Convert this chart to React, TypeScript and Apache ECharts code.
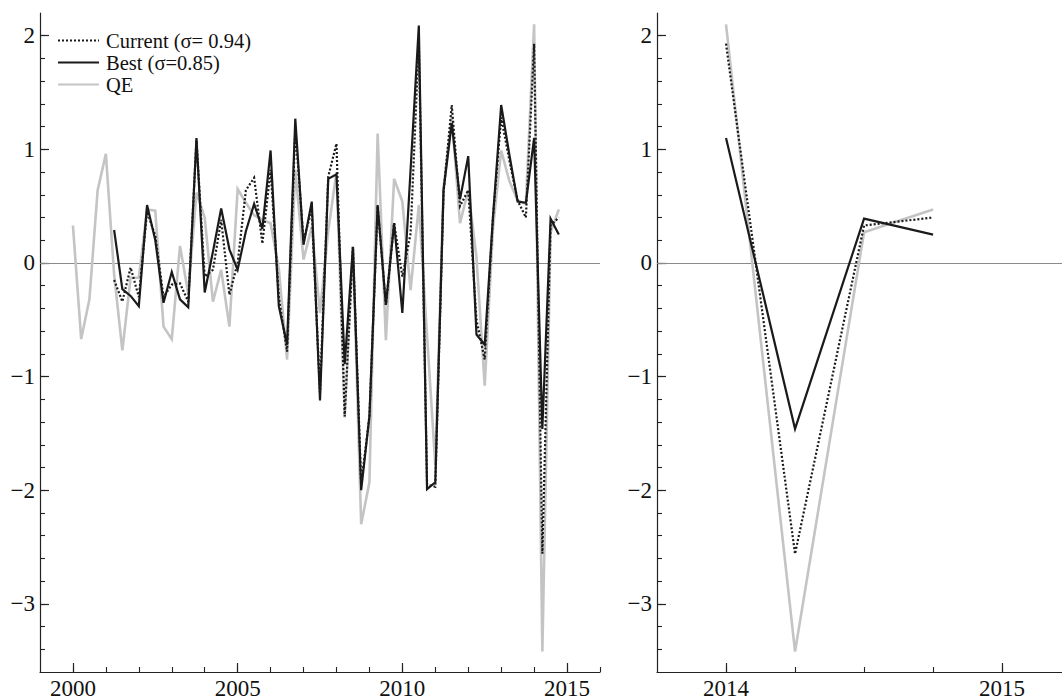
import React, { useEffect, useRef } from "react";
import * as echarts from "echarts";

// Quarterly series, QE from 2000Q1, models from 2001Q2
const qeStart = 2000.0;
const modelStart = 2001.25;

const qeValues = [
  0.33, -0.67, -0.32, 0.64, 0.96, -0.1, -0.77, -0.13, -0.13, 0.47,
  0.46, -0.56, -0.67, 0.15, -0.27, 0.62, 0.4, -0.34, -0.06, -0.56,
  0.65, 0.53, 0.42, 0.38, 0.35, -0.05, -0.85, 0.82, 0.03, 0.32,
  -0.44, 0.28, 0.8, -1.36, 0.15, -2.3, -1.93, 1.14, -0.68, 0.74,
  0.54, -0.24, 0.51, -0.64, -1.78, 0.66, 1.29, 0.35, 0.64, 0.05,
  -1.08, 0.3, 0.99, 0.72, 0.55, 0.52, 2.1, -3.42, 0.27, 0.47,
];

const bestValues = [
  0.29, -0.23, -0.29, -0.38, 0.51, 0.2, -0.35, -0.08, -0.32, -0.39,
  1.1, -0.26, 0.1, 0.48, 0.12, -0.06, 0.28, 0.52, 0.3, 0.99,
  -0.38, -0.72, 1.27, 0.16, 0.54, -1.21, 0.74, 0.78, -0.89, 0.14,
  -2.0, -1.35, 0.51, -0.37, 0.35, -0.44, 0.82, 2.09, -1.99, -1.93,
  0.64, 1.23, 0.56, 0.94, -0.63, -0.72, 0.4, 1.39, 0.95, 0.54,
  0.53, 1.1, -1.46, 0.39, 0.25,
];

const currentValues = [
  -0.15, -0.34, -0.04, -0.3, 0.45, 0.24, -0.3, -0.19, -0.18, -0.34,
  1.08, -0.12, -0.06, 0.38, -0.28, 0.0, 0.64, 0.75, 0.17, 0.82,
  -0.3, -0.78, 1.18, 0.2, 0.47, -1.14, 0.76, 1.05, -1.35, 0.14,
  -1.95, -1.35, 0.5, -0.37, 0.35, -0.12, 0.26, 1.95, -1.95, -1.97,
  0.62, 1.39, 0.5, 0.64, -0.5, -0.85, 0.4, 1.28, 0.9, 0.55,
  0.4, 1.93, -2.56, 0.33, 0.4,
];

// zoomed panel: last four quarters (2014)
const zoomStart = 2014.0;
const zoomCount = 4;

const seriesNames = ["Current (\u03c3= 0.94)", "Best (\u03c3=0.85)", "QE"];

const yTickLabels = [-3, -2, -1, 0, 1, 2];
const leftYearLabels = [2000, 2005, 2010, 2015];
const rightYearLabels = [2014, 2015];

const FONT = "'Liberation Serif', 'Times New Roman', 'DejaVu Serif', serif";
const AXIS_COLOR = "#222";

function toPairs(start: number, values: number[]) {
  return values.map((v, i) => [start + i / 4, v]);
}

function range(from: number, to: number, step: number) {
  const out: number[] = [];
  const n = Math.round((to - from) / step);
  for (let k = 0; k <= n; k++) out.push(Math.round((from + k * step) * 1000) / 1000);
  return out;
}

const fmtNum = (v: number) => (v < 0 ? "\u2212" + Math.abs(v) : String(v));

export default function App() {
  const ref = useRef<HTMLDivElement>(null);

  useEffect(() => {
    if (!ref.current) return;
    const chart = echarts.init(ref.current, undefined, { renderer: "svg" });

    const yMin = -3.6;
    const yMax = 2.2;
    const leftMin = 1999;
    const leftMax = 2016;
    const rightMin = 2013.75;
    const rightMax = 2015.217;

    const majorX = (grid: number, min: number, max: number, labels: number[]) => ({
      type: "value",
      gridIndex: grid,
      min,
      max,
      position: "bottom",
      axisLine: { show: true, onZero: false, lineStyle: { color: AXIS_COLOR, width: 1.2 } },
      axisTick: { show: true, inside: true, length: 9, customValues: labels, lineStyle: { color: AXIS_COLOR, width: 1.2 } },
      axisLabel: {
        show: true,
        customValues: labels,
        margin: 5,
        color: "#111",
        fontFamily: FONT,
        fontSize: 23,
        formatter: (v: number) => String(v),
      },
      splitLine: { show: false },
    });
    const minorX = (grid: number, min: number, max: number, ticks: number[]) => ({
      type: "value",
      gridIndex: grid,
      min,
      max,
      position: "bottom",
      axisLine: { show: false, onZero: false },
      axisTick: { show: true, inside: true, length: 5, customValues: ticks, lineStyle: { color: AXIS_COLOR, width: 1.1 } },
      axisLabel: { show: false },
      splitLine: { show: false },
    });
    const majorY = (grid: number) => ({
      type: "value",
      gridIndex: grid,
      min: yMin,
      max: yMax,
      position: "left",
      axisLine: { show: true, onZero: false, lineStyle: { color: AXIS_COLOR, width: 1.2 } },
      axisTick: { show: true, inside: true, length: 9, customValues: yTickLabels, lineStyle: { color: AXIS_COLOR, width: 1.2 } },
      axisLabel: {
        show: true,
        customValues: yTickLabels,
        margin: 5,
        color: "#111",
        fontFamily: FONT,
        fontSize: 23,
        formatter: fmtNum,
      },
      splitLine: { show: false },
    });
    const minorY = (grid: number) => ({
      type: "value",
      gridIndex: grid,
      min: yMin,
      max: yMax,
      position: "left",
      axisLine: { show: false, onZero: false },
      axisTick: { show: true, inside: true, length: 5, customValues: range(-3.4, 2.0, 0.2), lineStyle: { color: AXIS_COLOR, width: 1.1 } },
      axisLabel: { show: false },
      splitLine: { show: false },
    });

    const styles = [
      { color: "#1a1a1a", width: 2.2, type: [2, 2] as any },
      { color: "#1a1a1a", width: 2.2, type: "solid" },
      { color: "#c4c4c4", width: 2.6, type: "solid" },
    ];

    const makeSeries = (name: string, idx: number, data: number[][], axis: number, zeroLine: boolean) => {
      const s: any = {
        name,
        type: "line",
        xAxisIndex: axis,
        yAxisIndex: axis,
        data,
        symbol: "none",
        showSymbol: false,
        lineStyle: { ...styles[idx], join: "miter" },
        itemStyle: { color: styles[idx].color },
        z: 3 + (2 - idx),
      };
      if (zeroLine) {
        s.markLine = {
          silent: true,
          symbol: "none",
          label: { show: false },
          lineStyle: { color: "#8a8a8a", width: 1, type: "solid" },
          data: [{ yAxis: 0 }],
          z: 1,
        };
      }
      return s;
    };

    const qeLeft = toPairs(qeStart, qeValues);
    const bestLeft = toPairs(modelStart, bestValues);
    const curLeft = toPairs(modelStart, currentValues);
    const qeRight = toPairs(zoomStart, qeValues.slice(-zoomCount));
    const bestRight = toPairs(zoomStart, bestValues.slice(-zoomCount));
    const curRight = toPairs(zoomStart, currentValues.slice(-zoomCount));

    const option: any = {
      animation: false,
      backgroundColor: "#ffffff",
      legend: {
        data: seriesNames,
        orient: "vertical",
        left: 57,
        top: 30,
        padding: 0,
        itemWidth: 41,
        itemHeight: 10,
        itemGap: 1,
        selectedMode: false,
        itemStyle: { opacity: 0 },
        textStyle: { fontFamily: FONT, fontSize: 20.5, color: "#111", lineHeight: 20, padding: [0, 0, 0, 2] },
      },
      grid: [
        { left: 40, top: 13, width: 560, height: 662 },
        { left: 657, top: 13, width: 405, height: 662 },
      ],
      xAxis: [
        majorX(0, leftMin, leftMax, leftYearLabels),
        minorX(0, leftMin, leftMax, range(2000, 2016, 1)),
        majorX(1, rightMin, rightMax, rightYearLabels),
        minorX(1, rightMin, rightMax, range(2014, 2015, 0.25)),
      ],
      yAxis: [majorY(0), minorY(0), majorY(1), minorY(1)],
      series: [
        makeSeries(seriesNames[2], 2, qeLeft, 0, true),
        makeSeries(seriesNames[1], 1, bestLeft, 0, false),
        makeSeries(seriesNames[0], 0, curLeft, 0, false),
        makeSeries(seriesNames[2], 2, qeRight, 2, true),
        makeSeries(seriesNames[1], 1, bestRight, 2, false),
        makeSeries(seriesNames[0], 0, curRight, 2, false),
      ],
    };

    chart.setOption(option);
    return () => chart.dispose();
  }, []);

  return (
    <div
      ref={ref}
      style={{ position: "fixed", left: 0, top: 0, width: 1062, height: 700, background: "#fff" }}
    />
  );
}
